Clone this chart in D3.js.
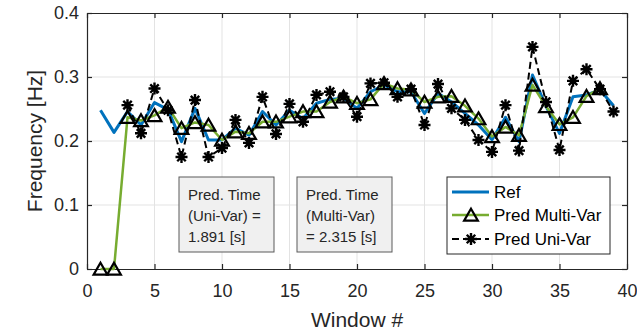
<!DOCTYPE html>
<html>
<head>
<meta charset="utf-8">
<script src="https://cdn.jsdelivr.net/npm/d3@7/dist/d3.min.js"></script>
<style>
  html, body { margin: 0; padding: 0; background: #fff; }
  svg { display: block; font-family: "Liberation Sans", Arial, sans-serif; }
</style>
</head>
<body>
<svg id="chart" width="637" height="336"></svg>
<script>
// Frequency estimates per analysis window
const windows = d3.range(1, 40);
const refFreq = [0.248, 0.2135, 0.246, 0.225, 0.26, 0.249, 0.199, 0.251, 0.2016, 0.2016,
  0.22, 0.209, 0.246, 0.225, 0.248, 0.235, 0.259, 0.265, 0.267, 0.251,
  0.277, 0.2875, 0.277, 0.277, 0.243, 0.2745, 0.261, 0.243, 0.225, 0.202,
  0.237, 0.199, 0.303, 0.254, 0.212, 0.269, 0.272, 0.28, 0.255];
const multiVarFreq = [0, 0, 0.237, 0.232, 0.240, 0.253, 0.22, 0.229, 0.225, 0.2016,
  0.2146, 0.212, 0.23, 0.23, 0.238, 0.246, 0.246, 0.261, 0.269, 0.259,
  0.265, 0.29, 0.282, 0.28, 0.261, 0.269, 0.27, 0.255, 0.235, 0.207,
  0.222, 0.209, 0.2875, 0.254, 0.226, 0.237, 0.27, 0.282];
const uniVarFreq = [null, null, 0.256, 0.212, 0.282, 0.248, 0.175, 0.264, 0.175, 0.189,
  0.233, 0.197, 0.269, 0.211, 0.258, 0.23, 0.272, 0.277, 0.269, 0.238,
  0.29, 0.291, 0.269, 0.281, 0.225, 0.289, 0.251, 0.233, 0.2016, 0.183,
  0.256, 0.185, 0.347, 0.261, 0.186, 0.294, 0.312, 0.281, 0.246];
const xTicks = [0, 5, 10, 15, 20, 25, 30, 35, 40];
const yTicks = [0, 0.1, 0.2, 0.3, 0.4];
const legendLabels = ["Ref", "Pred Multi-Var", "Pred Uni-Var"];
const noteUni = ["Pred. Time", "(Uni-Var) =", "1.891 [s]"];
const noteMulti = ["Pred. Time", "(Multi-Var)", "= 2.315 [s]"];

const svg = d3.select("#chart");
const plot = { left: 87, right: 627, top: 13, bottom: 269 };
const x = d3.scaleLinear().domain([0, 40]).range([plot.left, plot.right]);
const y = d3.scaleLinear().domain([0, 0.4]).range([plot.bottom, plot.top]);
const axisColor = "#262626";
const blue = "#0072BD", green = "#77AC30";

// grid
const grid = svg.append("g");
grid.selectAll(".gx").data(xTicks.slice(1, -1)).join("line")
  .attr("x1", d => x(d)).attr("x2", d => x(d))
  .attr("y1", plot.top).attr("y2", plot.bottom)
  .attr("stroke", "#e3e3e3").attr("stroke-width", 1);
grid.selectAll(".gy").data(yTicks.slice(1, -1)).join("line")
  .attr("x1", plot.left).attr("x2", plot.right)
  .attr("y1", d => y(d)).attr("y2", d => y(d))
  .attr("stroke", "#e3e3e3").attr("stroke-width", 1);

// axes (ticks pointing inward, box on all sides)
const fmtY = d => d === 0 ? "0" : d3.format(".1f")(d);
const styleAxis = g => {
  g.select(".domain").attr("stroke", axisColor).attr("stroke-width", 1.2);
  g.selectAll(".tick line").attr("stroke", axisColor).attr("stroke-width", 1.2);
  g.selectAll(".tick text").attr("fill", axisColor).attr("font-size", 18);
};
svg.append("g").attr("transform", `translate(0,${plot.bottom})`)
  .call(d3.axisBottom(x).tickValues(xTicks).tickSizeInner(-5).tickSizeOuter(0).tickPadding(15))
  .call(styleAxis);
svg.append("g").attr("transform", `translate(0,${plot.top})`)
  .call(d3.axisTop(x).tickValues(xTicks).tickSizeInner(-5).tickSizeOuter(0).tickFormat(""))
  .call(styleAxis);
svg.append("g").attr("transform", `translate(${plot.left},0)`)
  .call(d3.axisLeft(y).tickValues(yTicks).tickFormat(fmtY).tickSizeInner(-5).tickSizeOuter(0).tickPadding(8))
  .call(styleAxis);
svg.append("g").attr("transform", `translate(${plot.right},0)`)
  .call(d3.axisRight(y).tickValues(yTicks).tickFormat("").tickSizeInner(-5).tickSizeOuter(0))
  .call(styleAxis);

// axis labels
svg.append("text").attr("x", (plot.left + plot.right) / 2).attr("y", 327)
  .attr("text-anchor", "middle").attr("font-size", 21).attr("fill", axisColor)
  .text("Window #");
svg.append("text").attr("transform", `translate(42,${(plot.top + plot.bottom) / 2}) rotate(-90)`)
  .attr("text-anchor", "middle").attr("font-size", 21).attr("fill", axisColor)
  .text("Frequency [Hz]");

// series
const lineGen = d3.line().defined(d => d.v !== null).x(d => x(d.w)).y(d => y(d.v));
const toPts = arr => arr.map((v, i) => ({ w: windows[i], v }));

const refPts = toPts(refFreq);
const multiPts = toPts(multiVarFreq);
const uniPts = toPts(uniVarFreq);

svg.append("path").datum(refPts).attr("d", lineGen)
  .attr("fill", "none").attr("stroke", blue).attr("stroke-width", 3).attr("stroke-linejoin", "round");
svg.append("path").datum(multiPts).attr("d", lineGen)
  .attr("fill", "none").attr("stroke", green).attr("stroke-width", 2.5).attr("stroke-linejoin", "round");

const triPath = (cx, cy, s) => `M${cx},${cy - s * 0.5}L${cx + s * 0.55},${cy + s * 0.45}L${cx - s * 0.55},${cy + s * 0.45}Z`;
svg.append("g").selectAll("path").data(multiPts).join("path")
  .attr("d", d => triPath(x(d.w), y(d.v), 12.5))
  .attr("fill", "none").attr("stroke", "#000").attr("stroke-width", 2.2).attr("stroke-linejoin", "miter");

svg.append("path").datum(uniPts).attr("d", lineGen)
  .attr("fill", "none").attr("stroke", "#000").attr("stroke-width", 2).attr("stroke-dasharray", "7,4");

const starPath = (cx, cy, r) => {
  const d = r * 0.7071;
  return `M${cx - r},${cy}L${cx + r},${cy}M${cx},${cy - r}L${cx},${cy + r}` +
    `M${cx - d},${cy - d}L${cx + d},${cy + d}M${cx - d},${cy + d}L${cx + d},${cy - d}`;
};
svg.append("g").selectAll("path").data(uniPts.filter(d => d.v !== null)).join("path")
  .attr("d", d => starPath(x(d.w), y(d.v), 6))
  .attr("fill", "none").attr("stroke", "#000").attr("stroke-width", 2.4);

// annotation boxes
function note(lines, bx, by) {
  const g = svg.append("g");
  g.append("rect").attr("x", bx).attr("y", by).attr("width", 95).attr("height", 75)
    .attr("fill", "#f0f0f0").attr("stroke", "#5a5a5a").attr("stroke-width", 1);
  g.selectAll("text").data(lines).join("text")
    .attr("x", bx + 9).attr("y", (d, i) => by + 23 + i * 21)
    .attr("font-size", 15).attr("fill", "#262626").text(d => d);
}
note(noteUni, 179, 177);
note(noteMulti, 297, 177);

// legend
const lg = svg.append("g");
lg.append("rect").attr("x", 447).attr("y", 177).attr("width", 163).attr("height", 77)
  .attr("fill", "#fff").attr("stroke", "#262626").attr("stroke-width", 1);
const rows = [192, 215, 239];
lg.append("line").attr("x1", 452).attr("x2", 489).attr("y1", rows[0]).attr("y2", rows[0])
  .attr("stroke", blue).attr("stroke-width", 3);
lg.append("line").attr("x1", 452).attr("x2", 489).attr("y1", rows[1]).attr("y2", rows[1])
  .attr("stroke", green).attr("stroke-width", 2.5);
lg.append("path").attr("d", triPath(471, rows[1], 12.5))
  .attr("fill", "none").attr("stroke", "#000").attr("stroke-width", 2.2);
lg.append("line").attr("x1", 452).attr("x2", 489).attr("y1", rows[2]).attr("y2", rows[2])
  .attr("stroke", "#000").attr("stroke-width", 2).attr("stroke-dasharray", "7,4");
lg.append("path").attr("d", starPath(471, rows[2], 6))
  .attr("fill", "none").attr("stroke", "#000").attr("stroke-width", 2.4);
lg.selectAll("text").data(legendLabels).join("text")
  .attr("x", 494).attr("y", (d, i) => rows[i] + 6)
  .attr("font-size", 17).attr("fill", "#000").text(d => d);
</script>
</body>
</html>
